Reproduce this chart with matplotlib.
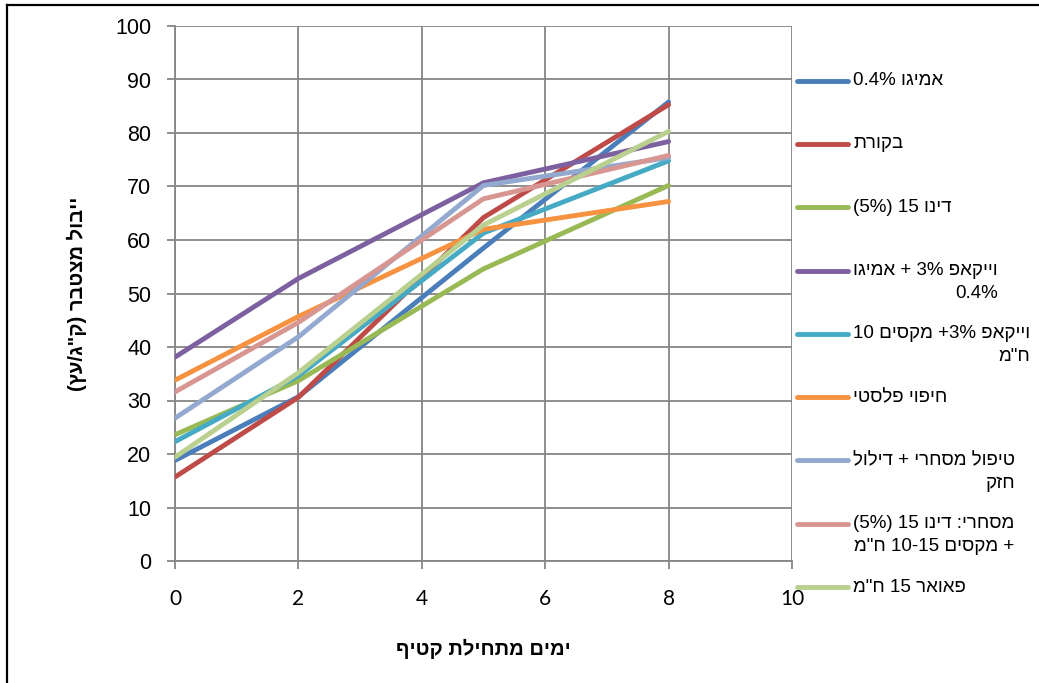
import matplotlib
matplotlib.use("Agg")
import matplotlib.pyplot as plt
from matplotlib.lines import Line2D

plt.rcParams['font.family'] = ['Liberation Sans', 'DejaVu Sans']

# ── data ────────────────────────────────────────────────────────
days = [0, 2, 5, 8]

amigo = [18.8, 30.7, 58.5, 85.8]
control = [15.7, 30.6, 64.2, 85.3]
dino = [23.6, 33.7, 54.6, 70.2]
wakeup_amigo = [38.1, 52.8, 70.7, 78.4]
wakeup_maxim = [22.3, 34.6, 61.3, 74.8]
plastic = [33.8, 45.7, 62.0, 67.2]
commercial_thin = [26.7, 41.9, 70.2, 75.4]
commercial_dino = [31.6, 44.6, 67.7, 75.8]
power = [19.4, 35.2, 62.8, 80.3]

# Hebrew labels written in visual (left-to-right) order, one string per line
labels = [
    ["0.4% וגימא"],
    ["תרוקב"],
    ["(5%) 15 וניד"],
    ["וגימא + 3% פאקייו", "0.4%"],
    ["10 םיסקמ +3% פאקייו", "מ\"ח"],
    ["יטסלפ יופיח"],
    ["לוליד + ירחסמ לופיט", "קזח"],
    ["(5%) 15 וניד :ירחסמ", "מ\"ח 10-15 םיסקמ +"],
    ["מ\"ח 15 ראואפ"],
]
series = [amigo, control, dino, wakeup_amigo, wakeup_maxim,
          plastic, commercial_thin, commercial_dino, power]
colors = ["#4A7EBB", "#BE4B48", "#98B954", "#7D60A0", "#46AAC5",
          "#F69240", "#93A9CF", "#D89693", "#B9D08F"]

x_title = "ףיטק תליחתמ םימי"
y_title = "(ץע/ג\"ק) רבטצמ לוביי"

W, H = 1039, 683
fig = plt.figure(figsize=(W / 100, H / 100), dpi=100)
ax = fig.add_axes([175 / W, 1 - 561 / H, (792 - 175) / W, (561 - 26) / H])

grid_c = "#868686"
for vals, c in zip(series, colors):
    ax.plot(days, vals, color=c, lw=3.5, solid_capstyle="round",
            solid_joinstyle="round", zorder=3)

ax.set_xlim(0, 10)
ax.set_ylim(0, 100)
ax.set_xticks(range(0, 11, 2))
ax.set_yticks(range(0, 101, 10))
ax.grid(True, color=grid_c, lw=1.3)
ax.set_axisbelow(True)
for side in ["top", "right"]:
    ax.spines[side].set_visible(False)
for side in ["left", "bottom"]:
    ax.spines[side].set_color(grid_c)
    ax.spines[side].set_linewidth(1.3)
ax.tick_params(axis="both", direction="out", length=6, width=1.3, color=grid_c)
ax.tick_params(axis="y", labelsize=15.5, pad=11)
ax.tick_params(axis="x", labelsize=15, pad=14)
for t in ax.get_xticklabels():
    t.set_fontfamily("Lato")

ax.set_xlabel(x_title, fontsize=14.5, fontweight="bold", labelpad=22)
ax.set_ylabel(y_title, fontsize=14.5, fontweight="bold", labelpad=20)

# ── legend drawn by hand (handle aligned with first line) ───────
renderer = fig.canvas.get_renderer()
y0, step = 80.7, 63.3
for i, (lab, c) in enumerate(zip(labels, colors)):
    yp = y0 + i * step
    fig.add_artist(Line2D([797 / W, 848 / W], [1 - yp / H, 1 - yp / H],
                          color=c, lw=3.5, solid_capstyle="round"))
    t1 = fig.text(853 / W, 1 - yp / H, lab[0], ha="left", va="center",
                  fontsize=13.5)
    if len(lab) > 1:
        bb = t1.get_window_extent(renderer)
        fig.text(bb.x1 / W, 1 - (yp + 23) / H, lab[1], ha="right",
                 va="center", fontsize=13.5)

# outer frame (only top and left edges fall inside the picture)
fig.add_artist(Line2D([7 / W, 1], [1 - 5 / H, 1 - 5 / H], color="black", lw=1.6))
fig.add_artist(Line2D([7 / W, 7 / W], [0, 1 - 5 / H], color="black", lw=1.6))

fig.savefig("out.png", dpi=100)
